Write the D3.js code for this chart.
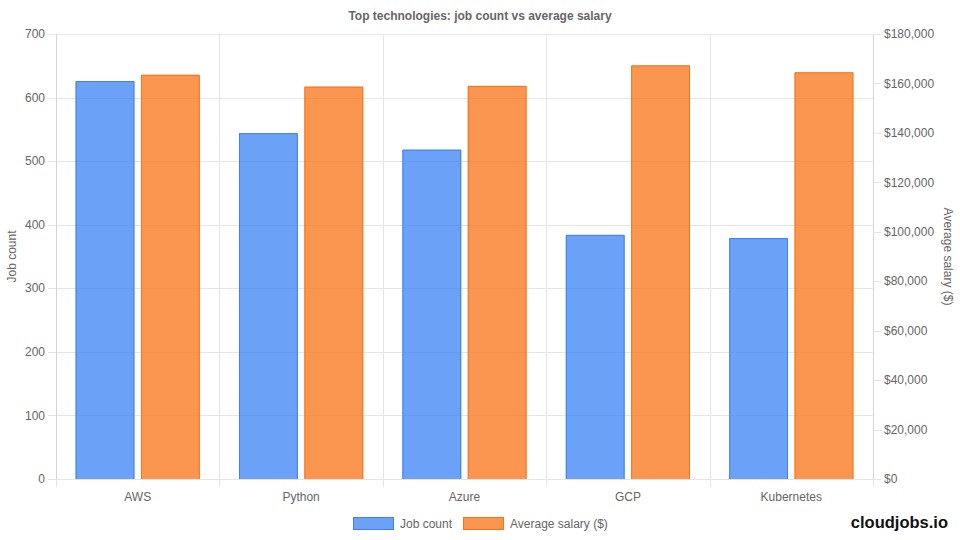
<!DOCTYPE html>
<html>
<head>
<meta charset="utf-8">
<script src="https://cdn.jsdelivr.net/npm/d3@7"></script>
<style>
  html, body { margin: 0; padding: 0; background: #fff; }
  svg { display: block; font-family: "Liberation Sans", Arial, Helvetica, sans-serif; }
</style>
</head>
<body>
<div id="chart"></div>
<script>
// # Data.
const categories = ['AWS', 'Python', 'Azure', 'GCP', 'Kubernetes']
const jobCounts = [626, 544, 518, 384, 379]
const avgSalaries = [163500, 158700, 159000, 167300, 164500]
const seriesNames = ['Job count', 'Average salary ($)']
const leftTicks = [0, 100, 200, 300, 400, 500, 600, 700]
const rightTicks = [0, 20000, 40000, 60000, 80000, 100000, 120000, 140000, 160000, 180000]

// # Layout.
const width = 960
const height = 540
const plot = {left: 56, right: 873, top: 34, bottom: 479}
const gridColor = '#e5e5e5'
const textColor = '#666'
const fills = ['rgba(59,130,246,0.75)', 'rgba(249,115,22,0.75)']
const strokes = ['rgb(59,130,246)', 'rgb(249,115,22)']

const svg = d3.select('#chart')
    .append('svg')
    .attr('width', width)
    .attr('height', height)

// # Scales.
const x = d3.scaleBand()
    .domain(categories)
    .range([plot.left, plot.right])
const bw = x.bandwidth()
const xs = d3.scaleBand()
    .domain(seriesNames)
    .range([bw * 0.1, bw * 0.9])
const yLeft = d3.scaleLinear().domain([0, 700]).range([plot.bottom, plot.top])
const yRight = d3.scaleLinear().domain([0, 180000]).range([plot.bottom, plot.top])

// # Horizontal grid (left axis), with tick marks outside.
svg.append('g')
    .selectAll('line')
    .data(leftTicks)
    .join('line')
    .attr('x1', plot.left - 8)
    .attr('x2', plot.right)
    .attr('y1', d => Math.round(yLeft(d)) + 0.5)
    .attr('y2', d => Math.round(yLeft(d)) + 0.5)
    .attr('stroke', gridColor)

// # Vertical grid at category boundaries.
const bounds = categories.map(c => x(c)).concat([plot.right])
svg.append('g')
    .selectAll('line')
    .data(bounds)
    .join('line')
    .attr('x1', d => Math.round(d) + 0.5)
    .attr('x2', d => Math.round(d) + 0.5)
    .attr('y1', plot.top)
    .attr('y2', plot.bottom + 8)
    .attr('stroke', gridColor)

// # Axis borders.
svg.append('line')
    .attr('x1', plot.left + 0.5).attr('x2', plot.left + 0.5)
    .attr('y1', plot.top).attr('y2', plot.bottom)
    .attr('stroke', '#d6d6d6')
svg.append('line')
    .attr('x1', plot.right + 0.5).attr('x2', plot.right + 0.5)
    .attr('y1', plot.top).attr('y2', plot.bottom)
    .attr('stroke', '#d6d6d6')

// # Right axis tick marks.
svg.append('g')
    .selectAll('line')
    .data(rightTicks)
    .join('line')
    .attr('x1', plot.right)
    .attr('x2', plot.right + 8)
    .attr('y1', d => Math.round(yRight(d)) + 0.5)
    .attr('y2', d => Math.round(yRight(d)) + 0.5)
    .attr('stroke', gridColor)

// # Bars.
const bars = [
    {name: seriesNames[0], values: jobCounts, scale: yLeft},
    {name: seriesNames[1], values: avgSalaries, scale: yRight}
]
const inner = xs.bandwidth()
bars.forEach((s, i) => {
    const g = svg.append('g')
    const w = inner * 0.9
    g.selectAll('rect')
        .data(s.values)
        .join('rect')
        .attr('x', (d, j) => x(categories[j]) + xs(s.name) + inner * 0.05)
        .attr('y', d => s.scale(d))
        .attr('width', w)
        .attr('height', d => plot.bottom - s.scale(d))
        .attr('fill', fills[i])
    // # Border on top and sides only.
    g.selectAll('path')
        .data(s.values)
        .join('path')
        .attr('d', (d, j) => {
            const x0 = x(categories[j]) + xs(s.name) + inner * 0.05 + 0.5
            const x1 = x0 + w - 1
            const y0 = s.scale(d) + 0.5
            return `M${x0},${plot.bottom}V${y0}H${x1}V${plot.bottom}`
        })
        .attr('fill', 'none')
        .attr('stroke', strokes[i])
        .attr('stroke-width', 1)
})

// # Tick labels.
svg.append('g')
    .selectAll('text')
    .data(leftTicks)
    .join('text')
    .attr('x', plot.left - 11)
    .attr('y', d => yLeft(d))
    .attr('dy', '0.35em')
    .attr('text-anchor', 'end')
    .attr('font-size', 12)
    .attr('fill', textColor)
    .text(d => d)

const money = d3.format('$,')
svg.append('g')
    .selectAll('text')
    .data(rightTicks)
    .join('text')
    .attr('x', plot.right + 11)
    .attr('y', d => yRight(d))
    .attr('dy', '0.35em')
    .attr('font-size', 12)
    .attr('fill', textColor)
    .text(d => money(d))

svg.append('g')
    .selectAll('text')
    .data(categories)
    .join('text')
    .attr('x', d => x(d) + bw / 2)
    .attr('y', plot.bottom + 22)
    .attr('text-anchor', 'middle')
    .attr('font-size', 12)
    .attr('fill', textColor)
    .text(d => d)

// # Axis titles.
svg.append('text')
    .attr('transform', `translate(16,${(plot.top + plot.bottom) / 2}) rotate(-90)`)
    .attr('text-anchor', 'middle')
    .attr('font-size', 12)
    .attr('fill', textColor)
    .text('Job count')
svg.append('text')
    .attr('transform', `translate(944,${(plot.top + plot.bottom) / 2}) rotate(90)`)
    .attr('text-anchor', 'middle')
    .attr('font-size', 12)
    .attr('fill', textColor)
    .text('Average salary ($)')

// # Title (centred on the whole canvas).
svg.append('text')
    .attr('x', width / 2)
    .attr('y', 20)
    .attr('text-anchor', 'middle')
    .attr('font-size', 12)
    .attr('font-weight', 'bold')
    .attr('fill', textColor)
    .text('Top technologies: job count vs average salary')

// # Legend.
const legend = svg.append('g')
const legendItems = [
    {name: seriesNames[0], x: 353},
    {name: seriesNames[1], x: 463}
]
legendItems.forEach((it, i) => {
    legend.append('rect')
        .attr('x', it.x + 0.5)
        .attr('y', 517.5)
        .attr('width', 40)
        .attr('height', 12)
        .attr('fill', fills[i])
        .attr('stroke', strokes[i])
    legend.append('text')
        .attr('x', it.x + 47)
        .attr('y', 523.5)
        .attr('dy', '0.35em')
        .attr('font-size', 12)
        .attr('fill', textColor)
        .text(it.name)
})

// # Watermark.
svg.append('text')
    .attr('x', 948)
    .attr('y', 528)
    .attr('text-anchor', 'end')
    .attr('font-size', 16.5)
    .attr('font-weight', 'bold')
    .attr('fill', '#111')
    .text('cloudjobs.io')
</script>
</body>
</html>
